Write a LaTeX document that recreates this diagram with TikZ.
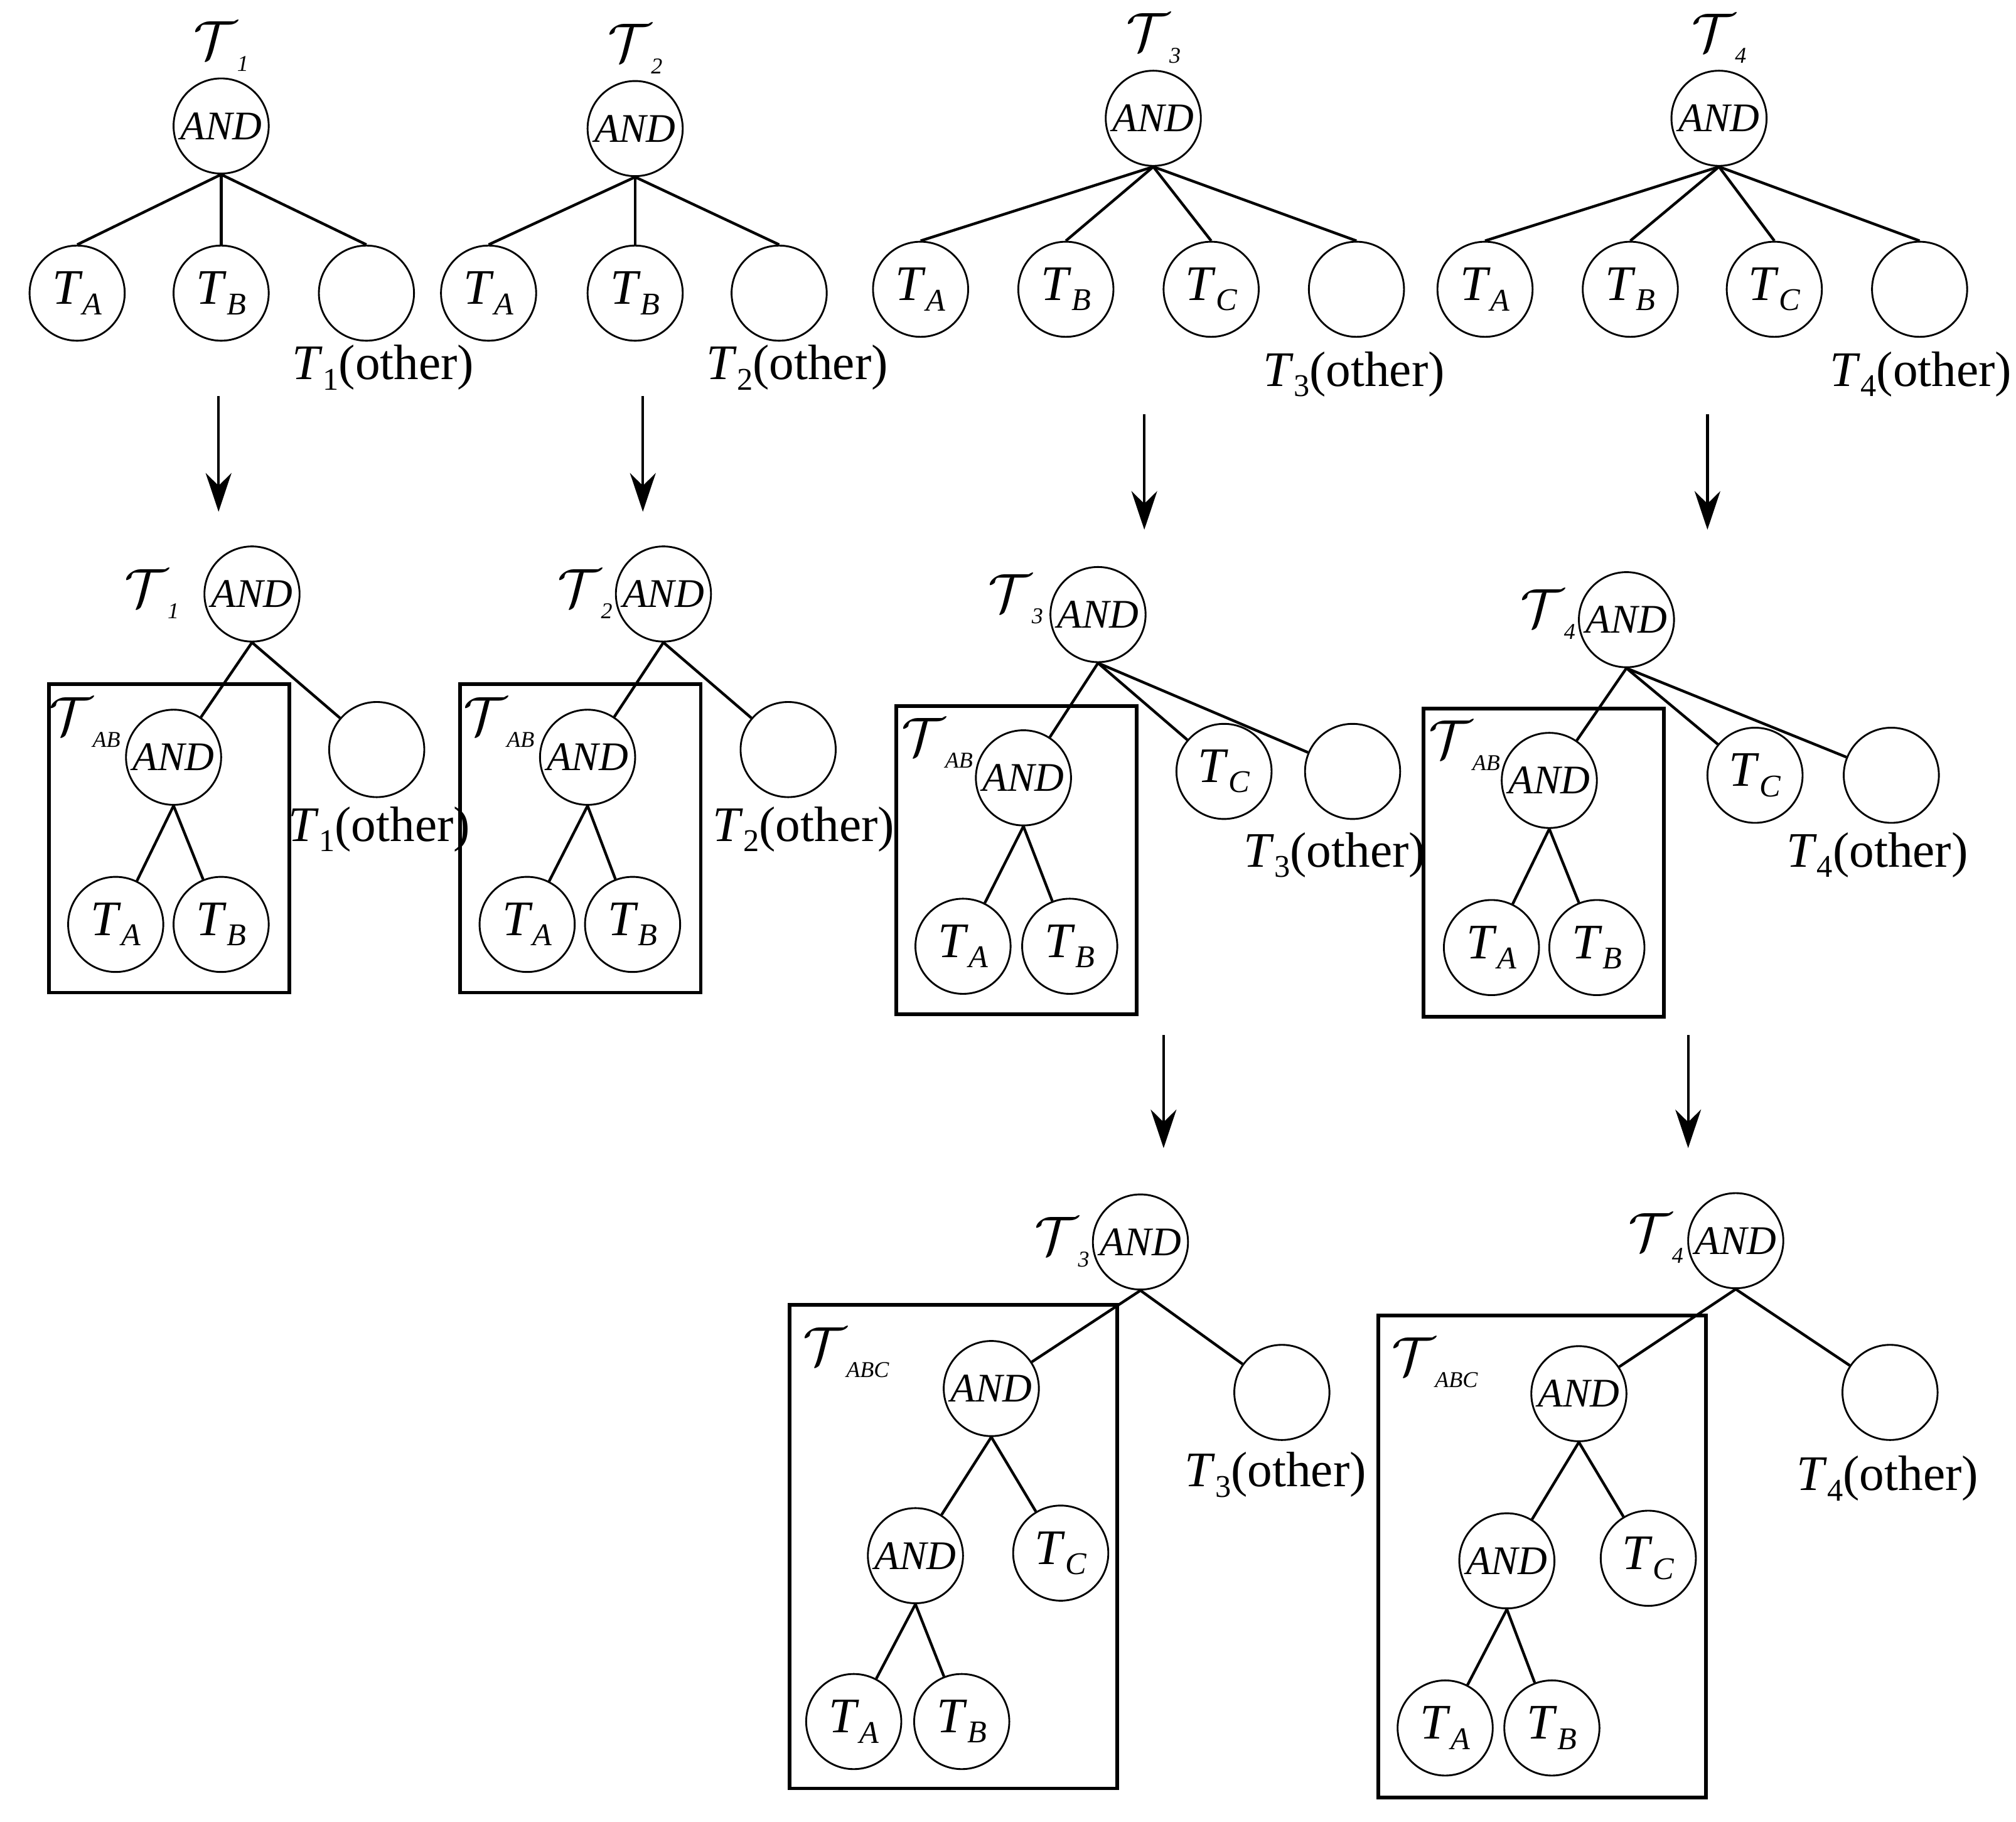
\documentclass[tikz,border=0pt]{standalone}
\usepackage{fontspec}
\setmainfont{Liberation Serif}
\usetikzlibrary{arrows.meta,positioning}
\newcommand{\Ts}[1]{\textit{T}\raisebox{-0.45ex}{\scriptsize\textit{#1}}}
\newcommand{\Tc}[1]{$\mathcal{T}$\raisebox{-0.5ex}{\tiny\textit{#1}}}
\newcommand{\Toth}[1]{\textit{T}\raisebox{-0.45ex}{\scriptsize #1}(other)}
\tikzset{
  nd/.style={circle, draw, thin, minimum size=0.74cm, inner sep=0pt, font=\fontsize{11}{13}\selectfont},
  andnd/.style={nd, font=\fontsize{9}{11}\selectfont},
  lbl/.style={inner sep=0pt, font=\fontsize{11}{13}\selectfont},
  cal/.style={inner sep=0pt, font=\fontsize{12}{14}\selectfont},
  box/.style={draw, thick},
  edge/.style={semithick},
  arr/.style={semithick, -{Stealth[length=3mm,width=2mm]}}
}
\begin{document}
\begin{tikzpicture}
\useasboundingbox (0,0) rectangle (15.68,-14.17);
% top row
\node[andnd] (a1) at (1.72,-0.98) {\textit{AND}};
\node[cal] (t1) at (1.72,-0.36) {\Tc{1}};
\node[nd] (a1a) at (0.60,-2.28) {\Ts{A}};
\node[nd] (a1b) at (1.72,-2.28) {\Ts{B}};
\node[nd] (a1o) at (2.85,-2.28) {};
\node[lbl] (l1o) at (2.98,-2.86) {\Toth{1}};
\node[andnd] (a2) at (4.94,-1.00) {\textit{AND}};
\node[cal] (t2) at (4.94,-0.38) {\Tc{2}};
\node[nd] (a2a) at (3.80,-2.28) {\Ts{A}};
\node[nd] (a2b) at (4.94,-2.28) {\Ts{B}};
\node[nd] (a2o) at (6.06,-2.28) {};
\node[lbl] (l2o) at (6.20,-2.86) {\Toth{2}};
\node[andnd] (a3) at (8.97,-0.92) {\textit{AND}};
\node[cal] (t3) at (8.97,-0.30) {\Tc{3}};
\node[nd] (a3a) at (7.16,-2.25) {\Ts{A}};
\node[nd] (a3b) at (8.29,-2.25) {\Ts{B}};
\node[nd] (a3c) at (9.42,-2.25) {\Ts{C}};
\node[nd] (a3o) at (10.55,-2.25) {};
\node[lbl] (l3o) at (10.53,-2.91) {\Toth{3}};
\node[andnd] (a4) at (13.37,-0.92) {\textit{AND}};
\node[cal] (t4) at (13.37,-0.30) {\Tc{4}};
\node[nd] (a4a) at (11.55,-2.25) {\Ts{A}};
\node[nd] (a4b) at (12.68,-2.25) {\Ts{B}};
\node[nd] (a4c) at (13.80,-2.25) {\Ts{C}};
\node[nd] (a4o) at (14.93,-2.25) {};
\node[lbl] (l4o) at (14.94,-2.91) {\Toth{4}};
\foreach \r/\c in {a1/a1a,a1/a1b,a1/a1o,a2/a2a,a2/a2b,a2/a2o,a3/a3a,a3/a3b,a3/a3c,a3/a3o,a4/a4a,a4/a4b,a4/a4c,a4/a4o}
  \draw[edge] (\r.south) -- (\c.north);
% arrows
\coordinate (p1) at (1.70,-3.08); \coordinate (q1) at (1.70,-3.98);
\coordinate (p2) at (5.00,-3.08); \coordinate (q2) at (5.00,-3.98);
\coordinate (p3) at (8.90,-3.22); \coordinate (q3) at (8.90,-4.12);
\coordinate (p4) at (13.28,-3.22); \coordinate (q4) at (13.28,-4.12);
\coordinate (p5) at (9.05,-8.05); \coordinate (q5) at (9.05,-8.93);
\coordinate (p6) at (13.13,-8.05); \coordinate (q6) at (13.13,-8.93);
\foreach \i in {1,...,6} \draw[arr] (p\i) -- (q\i);
% middle row
\node[andnd] (b1) at (1.96,-4.62) {\textit{AND}};
\node[cal] (u1) at (1.18,-4.62) {\Tc{1}};
\draw[box] (0.38,-5.32) rectangle (2.25,-7.72);
\node[andnd] (b1x) at (1.35,-5.89) {\textit{AND}};
\node[cal] (u1x) at (0.66,-5.62) {\Tc{AB}};
\node[nd] (b1a) at (0.90,-7.19) {\Ts{A}};
\node[nd] (b1b) at (1.72,-7.19) {\Ts{B}};
\node[nd] (b1o) at (2.93,-5.83) {};
\node[lbl] (m1o) at (2.95,-6.45) {\Toth{1}};
\node[andnd] (b2) at (5.16,-4.62) {\textit{AND}};
\node[cal] (u2) at (4.55,-4.62) {\Tc{2}};
\draw[box] (3.58,-5.32) rectangle (5.45,-7.72);
\node[andnd] (b2x) at (4.57,-5.89) {\textit{AND}};
\node[cal] (u2x) at (3.88,-5.62) {\Tc{AB}};
\node[nd] (b2a) at (4.10,-7.19) {\Ts{A}};
\node[nd] (b2b) at (4.92,-7.19) {\Ts{B}};
\node[nd] (b2o) at (6.13,-5.83) {};
\node[lbl] (m2o) at (6.25,-6.45) {\Toth{2}};
\node[andnd] (b3) at (8.54,-4.78) {\textit{AND}};
\node[cal] (u3) at (7.90,-4.66) {\Tc{3}};
\draw[box] (6.97,-5.49) rectangle (8.84,-7.89);
\node[andnd] (b3x) at (7.96,-6.05) {\textit{AND}};
\node[cal] (u3x) at (7.29,-5.78) {\Tc{AB}};
\node[nd] (b3a) at (7.49,-7.36) {\Ts{A}};
\node[nd] (b3b) at (8.32,-7.36) {\Ts{B}};
\node[nd] (b3c) at (9.52,-6.00) {\Ts{C}};
\node[nd] (b3o) at (10.52,-6.00) {};
\node[lbl] (m3o) at (10.38,-6.65) {\Toth{3}};
\node[andnd] (b4) at (12.65,-4.82) {\textit{AND}};
\node[cal] (u4) at (12.04,-4.78) {\Tc{4}};
\draw[box] (11.07,-5.51) rectangle (12.94,-7.91);
\node[andnd] (b4x) at (12.05,-6.07) {\textit{AND}};
\node[cal] (u4x) at (11.39,-5.80) {\Tc{AB}};
\node[nd] (b4a) at (11.60,-7.37) {\Ts{A}};
\node[nd] (b4b) at (12.42,-7.37) {\Ts{B}};
\node[nd] (b4c) at (13.65,-6.03) {\Ts{C}};
\node[nd] (b4o) at (14.71,-6.03) {};
\node[lbl] (m4o) at (14.60,-6.65) {\Toth{4}};
\foreach \r/\c in {b1/b1x,b1/b1o,b1x/b1a,b1x/b1b,b2/b2x,b2/b2o,b2x/b2a,b2x/b2b,
  b3/b3x,b3/b3c,b3/b3o,b3x/b3a,b3x/b3b,b4/b4x,b4/b4c,b4/b4o,b4x/b4a,b4x/b4b}
  \draw[edge] (\r.south) -- (\c);
% bottom row
\node[andnd] (c3) at (8.87,-9.66) {\textit{AND}};
\node[cal] (v3) at (8.26,-9.66) {\Tc{3}};
\draw[box] (6.14,-10.15) rectangle (8.69,-13.91);
\node[cal] (v3x) at (6.58,-10.52) {\Tc{ABC}};
\node[andnd] (c3x) at (7.71,-10.80) {\textit{AND}};
\node[andnd] (c3y) at (7.12,-12.10) {\textit{AND}};
\node[nd] (c3c) at (8.25,-12.08) {\Ts{C}};
\node[nd] (c3a) at (6.64,-13.39) {\Ts{A}};
\node[nd] (c3b) at (7.48,-13.39) {\Ts{B}};
\node[nd] (c3o) at (9.97,-10.83) {};
\node[lbl] (n3o) at (9.92,-11.47) {\Toth{3}};
\node[andnd] (c4) at (13.50,-9.65) {\textit{AND}};
\node[cal] (v4) at (12.88,-9.63) {\Tc{4}};
\draw[box] (10.72,-10.23) rectangle (13.27,-13.98);
\node[cal] (v4x) at (11.16,-10.60) {\Tc{ABC}};
\node[andnd] (c4x) at (12.28,-10.84) {\textit{AND}};
\node[andnd] (c4y) at (11.72,-12.14) {\textit{AND}};
\node[nd] (c4c) at (12.82,-12.12) {\Ts{C}};
\node[nd] (c4a) at (11.24,-13.44) {\Ts{A}};
\node[nd] (c4b) at (12.07,-13.44) {\Ts{B}};
\node[nd] (c4o) at (14.70,-10.83) {};
\node[lbl] (n4o) at (14.68,-11.50) {\Toth{4}};
\foreach \r/\c in {c3/c3x,c3/c3o,c3x/c3y,c3x/c3c,c3y/c3a,c3y/c3b,
  c4/c4x,c4/c4o,c4x/c4y,c4x/c4c,c4y/c4a,c4y/c4b}
  \draw[edge] (\r.south) -- (\c);
\end{tikzpicture}
\end{document}
